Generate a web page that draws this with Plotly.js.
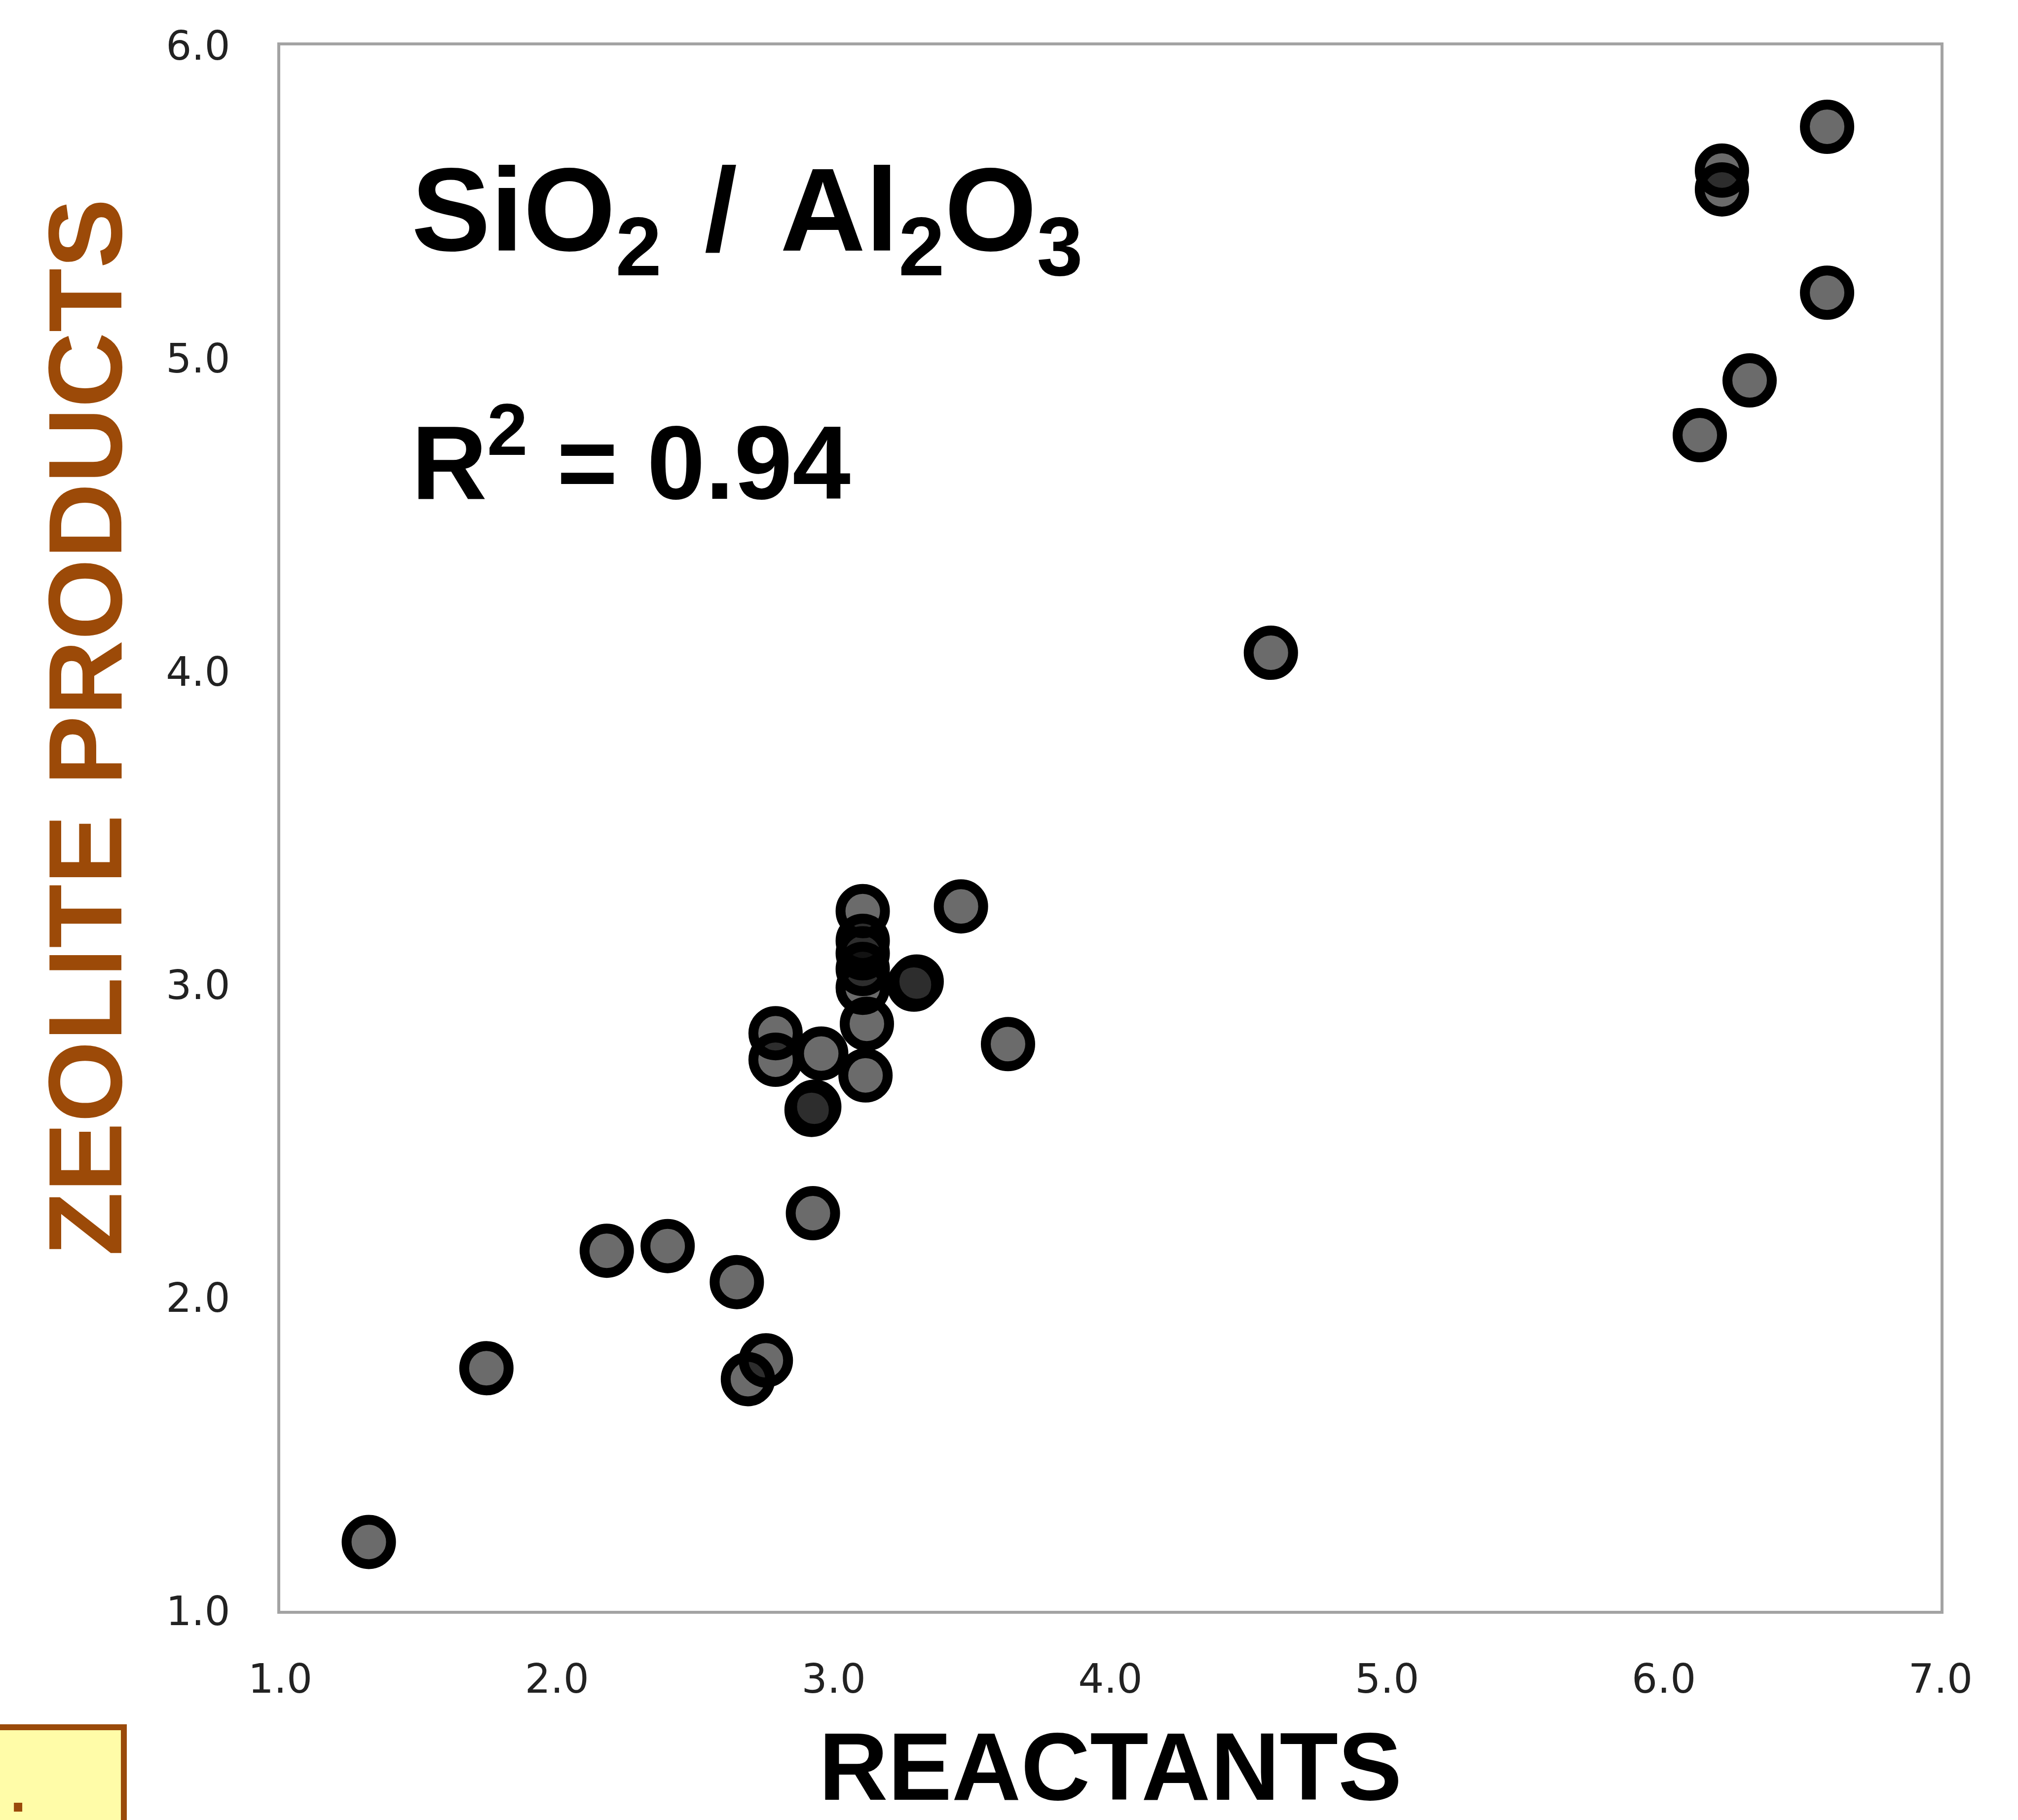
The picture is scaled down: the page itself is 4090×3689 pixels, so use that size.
<!DOCTYPE html>
<html>
<head>
<meta charset="utf-8">
<script src="https://cdn.plot.ly/plotly-3.0.1.min.js"></script>
<style>
  html, body { margin: 0; padding: 0; background: #ffffff; }
  #chart { width: 4090px; height: 3689px; }
</style>
</head>
<body>
<div id="chart"></div>
<script>
// SiO2/Al2O3 ratio: reactants (x) vs zeolite products (y)
const reactants = [1.32, 1.745, 2.18, 2.40, 2.65, 2.69, 2.755, 2.925, 2.79, 2.79, 2.955, 2.92, 2.93,
                   3.115, 3.12, 3.105, 3.105, 3.105, 3.105, 3.105, 3.29, 3.30, 3.46, 3.63,
                   4.58, 6.13, 6.31, 6.59, 6.59, 6.21, 6.21];
const products  = [1.22, 1.775, 2.15, 2.165, 2.05, 1.74, 1.80, 2.27, 2.845, 2.76, 2.78, 2.60, 2.61,
                   2.71, 2.875, 2.99, 3.05, 3.10, 3.14, 3.235, 3.00, 3.01, 3.25, 2.81,
                   4.06, 4.755, 4.93, 5.21, 5.74, 5.60, 5.54];

const xTickValues = [1, 2, 3, 4, 5, 6, 7];
const xTickLabels = ['1.0', '2.0', '3.0', '4.0', '5.0', '6.0', '7.0'];
const yTickValues = [1, 2, 3, 4, 5, 6];
const yTickLabels = ['1.0', '2.0', '3.0', '4.0', '5.0', '6.0'];

const xTitle = 'REACTANTS';
const yTitle = 'ZEOLITE PRODUCTS';
const ratioLabel = 'SiO<sub>2</sub>\u00A0\u200A/\u200A\u00A0Al<sub>2</sub>O<sub>3</sub>';
const r2Label = 'R<sup>2</sup> = 0.94';
const panelLabel = '.';

const W = 4090, H = 3689;
const plotLeft = 568, plotRight = 3933, plotTop = 92, plotBottom = 3265;
const pw = plotRight - plotLeft, ph = plotBottom - plotTop;
const px = X => (X - plotLeft) / pw;
const py = Y => (plotBottom - Y) / ph;

const tickFont = { family: 'DejaVu Sans, Verdana, sans-serif', size: 82, color: '#222222' };
const boldFont = 'Liberation Sans, Arial, sans-serif';

const trace = {
  type: 'scatter',
  mode: 'markers',
  x: reactants,
  y: products,
  cliponaxis: false,
  marker: {
    symbol: 'circle',
    size: 90,
    color: 'rgba(0,0,0,0.58)',
    line: { color: '#000000', width: 20 }
  },
  hoverinfo: 'x+y',
  showlegend: false
};

const layout = {
  width: W,
  height: H,
  paper_bgcolor: '#ffffff',
  plot_bgcolor: '#ffffff',
  margin: { l: plotLeft, r: W - plotRight, t: plotTop, b: H - plotBottom, pad: 0 },
  showlegend: false,
  xaxis: {
    range: [1, 7],
    tickmode: 'array',
    tickvals: xTickValues,
    ticktext: xTickLabels,
    ticks: '',
    ticklabelstandoff: 62,
    tickfont: tickFont,
    showgrid: false,
    zeroline: false,
    showline: true,
    mirror: true,
    linecolor: '#a3a3a3',
    linewidth: 6,
    automargin: false,
    title: {
      text: xTitle,
      font: { family: boldFont, size: 194, color: '#000000', weight: 'bold' },
      standoff: 75
    }
  },
  yaxis: {
    range: [1, 6],
    tickmode: 'array',
    tickvals: yTickValues,
    ticktext: yTickLabels,
    ticks: '',
    ticklabelstandoff: 79,
    tickfont: tickFont,
    showgrid: false,
    zeroline: false,
    showline: true,
    mirror: true,
    linecolor: '#a3a3a3',
    linewidth: 6,
    automargin: false
  },
  shapes: [
    {
      type: 'rect', xref: 'paper', yref: 'paper',
      x0: px(-40), x1: px(251), y0: py(3730), y1: py(3501),
      fillcolor: '#fffca8',
      line: { color: '#9a4a0a', width: 12 }
    }
  ],
  annotations: [
    {
      text: ratioLabel, xref: 'paper', yref: 'paper',
      x: px(832), y: py(442), xanchor: 'left', yanchor: 'middle',
      showarrow: false,
      font: { family: boldFont, size: 240, color: '#000000', weight: 'bold' }
    },
    {
      text: r2Label, xref: 'paper', yref: 'paper',
      x: px(832), y: py(922), xanchor: 'left', yanchor: 'middle',
      showarrow: false,
      font: { family: boldFont, size: 212, color: '#000000', weight: 'bold' }
    },
    {
      text: yTitle, xref: 'paper', yref: 'paper',
      x: px(172), y: py(1474), xanchor: 'center', yanchor: 'middle',
      textangle: -90,
      showarrow: false,
      font: { family: boldFont, size: 212, color: '#9c4a08', weight: 'bold' }
    },
    {
      text: panelLabel, xref: 'paper', yref: 'paper',
      x: px(36), y: py(3630), xanchor: 'center', yanchor: 'middle',
      showarrow: false,
      font: { family: boldFont, size: 120, color: '#9a4a0a', weight: 'bold' }
    }
  ]
};

Plotly.newPlot('chart', [trace], layout, { displayModeBar: false, staticPlot: true });
</script>
</body>
</html>
